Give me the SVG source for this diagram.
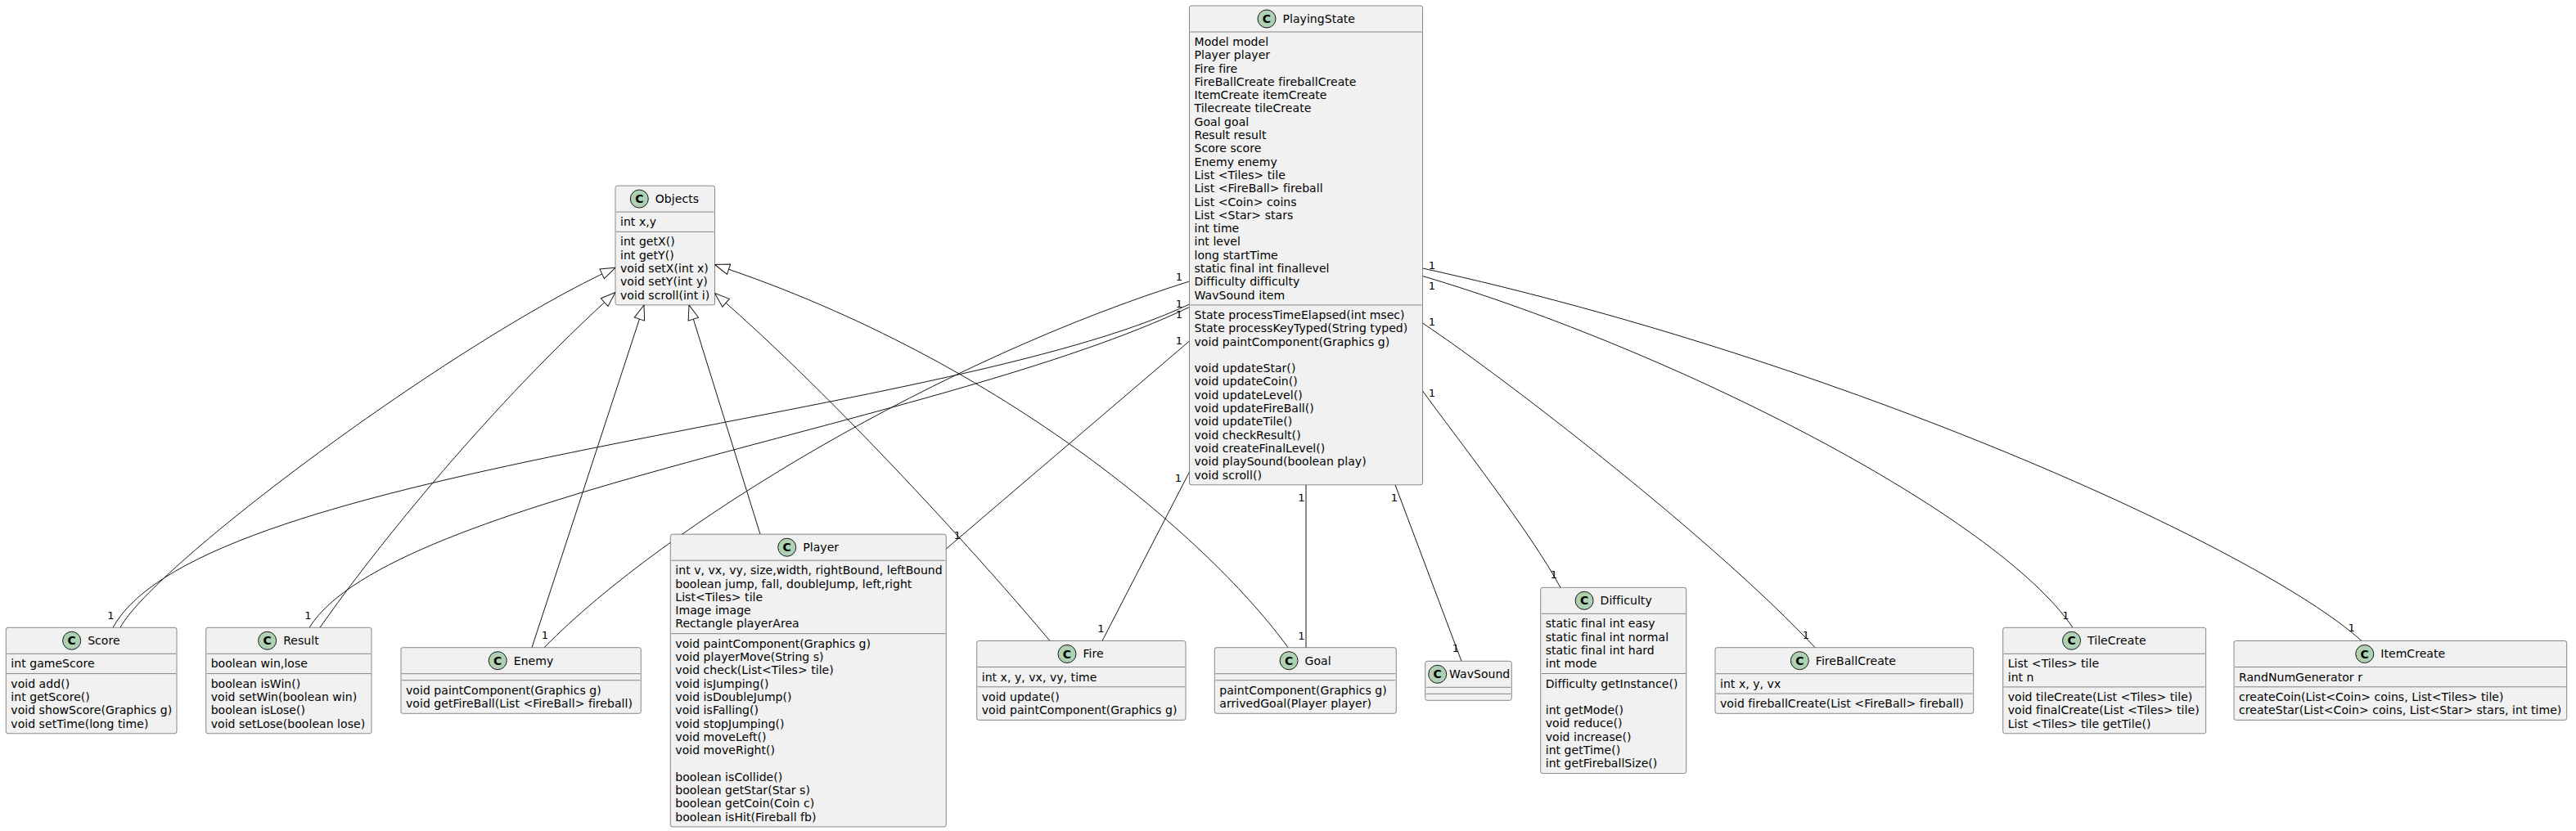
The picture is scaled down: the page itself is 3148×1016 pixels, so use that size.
<svg xmlns="http://www.w3.org/2000/svg" width="3148" height="1016" viewBox="0 0 3148 1016">
<style>
.box{fill:#F1F1F1;stroke:#181818;stroke-width:0.5}
.sep{stroke:#181818;stroke-width:0.5}
.circ{fill:#ADD1B2;stroke:#181818;stroke-width:1}
text{font-family:"DejaVu Sans","Liberation Sans",sans-serif;fill:#000000}
.t{font-size:14px;letter-spacing:0.05px}
.ci{font-size:14px;font-weight:bold;text-anchor:middle}
.edge{fill:none;stroke:#181818;stroke-width:1}
.lbl{font-size:13px;text-anchor:middle}
</style>
<defs>
<marker id="ext" markerUnits="userSpaceOnUse" markerWidth="24" markerHeight="20" viewBox="-21 -10 24 20" refX="0" refY="0" orient="auto">
<path d="M0,0 L-18,-6.5 L-18,6.5 Z" fill="#FFFFFF" stroke="#181818" stroke-width="1"/>
</marker>
</defs>
<rect width="3148" height="1016" fill="#FFFFFF"/>

<g id="connectors">
<path class="edge" d="M147,767.3 C187,692 552,419 752,327.3" marker-end="url(#ext)"/>
<path class="edge" d="M391,767.3 C461,667 602,493 752,357.5" marker-end="url(#ext)"/>
<path class="edge" d="M650,791.7 L787,373" marker-end="url(#ext)"/>
<path class="edge" d="M929,653.2 L842,373" marker-end="url(#ext)"/>
<path class="edge" d="M1283,783.5 C1203,688 1023,488 873.5,358.5" marker-end="url(#ext)"/>
<path class="edge" d="M1574,791.7 C1484,667 1233,443 873.5,323.5" marker-end="url(#ext)"/>

<path class="edge" d="M1453.5,344 C1153,438 815,639 665,791.7"/>
<path class="edge" d="M1453.5,372 C1150,515 248,567 138,767.3"/>
<path class="edge" d="M1453.5,375.5 C1150,520 478,607 378,767.3"/>
<path class="edge" d="M1453.5,417 L1156.3,671"/>
<path class="edge" d="M1453.5,577 L1347,783.5"/>
<path class="edge" d="M1596,592.8 L1596,791.7"/>
<path class="edge" d="M1705,592.8 L1786,808.3"/>
<path class="edge" d="M1738.5,478 C1780,535 1870,650 1907,718.3"/>
<path class="edge" d="M1738.5,395 C1850,470 2100,665 2218,791.7"/>
<path class="edge" d="M1738.5,337.5 C2050,430 2440,630 2533,767.3"/>
<path class="edge" d="M1738.5,328 C2250,440 2760,670 2886,783.5"/>

<text class="lbl" x="1441" y="343">1</text>
<text class="lbl" x="1441" y="376">1</text>
<text class="lbl" x="1441" y="389">1</text>
<text class="lbl" x="1441" y="421">1</text>
<text class="lbl" x="1440" y="589">1</text>
<text class="lbl" x="1590.5" y="613">1</text>
<text class="lbl" x="1704" y="613">1</text>
<text class="lbl" x="1750" y="485">1</text>
<text class="lbl" x="1750" y="398">1</text>
<text class="lbl" x="1750" y="354">1</text>
<text class="lbl" x="1750" y="329">1</text>
<text class="lbl" x="135.5" y="757">1</text>
<text class="lbl" x="376.5" y="757">1</text>
<text class="lbl" x="666" y="780.7">1</text>
<text class="lbl" x="1170" y="659">1</text>
<text class="lbl" x="1345.5" y="772.7">1</text>
<text class="lbl" x="1590.5" y="781.7">1</text>
<text class="lbl" x="1779" y="797">1</text>
<text class="lbl" x="1899" y="707">1</text>
<text class="lbl" x="2207" y="780.7">1</text>
<text class="lbl" x="2524.5" y="756.7">1</text>
<text class="lbl" x="2873.7" y="771.7">1</text>
</g>

<g id="PlayingState">
<rect class="box" x="1453.5" y="7" width="285" height="585.8" rx="2.5" ry="2.5"/>
<ellipse class="circ" cx="1548" cy="23" rx="11" ry="11"/>
<text class="ci" x="1548" y="28">C</text>
<text class="t" x="1567.5" y="27.85">PlayingState</text>
<line class="sep" x1="1454.5" y1="39" x2="1737.5" y2="39"/>
<text class="t" x="1459.5" y="56">Model model</text>
<text class="t" x="1459.5" y="72.3">Player player</text>
<text class="t" x="1459.5" y="88.59">Fire fire</text>
<text class="t" x="1459.5" y="104.89">FireBallCreate fireballCreate</text>
<text class="t" x="1459.5" y="121.19">ItemCreate itemCreate</text>
<text class="t" x="1459.5" y="137.49">Tilecreate tileCreate</text>
<text class="t" x="1459.5" y="153.78">Goal goal</text>
<text class="t" x="1459.5" y="170.08">Result result</text>
<text class="t" x="1459.5" y="186.38">Score score</text>
<text class="t" x="1459.5" y="202.67">Enemy enemy</text>
<text class="t" x="1459.5" y="218.97">List &lt;Tiles&gt; tile</text>
<text class="t" x="1459.5" y="235.27">List &lt;FireBall&gt; fireball</text>
<text class="t" x="1459.5" y="251.56">List &lt;Coin&gt; coins</text>
<text class="t" x="1459.5" y="267.86">List &lt;Star&gt; stars</text>
<text class="t" x="1459.5" y="284.16">int time</text>
<text class="t" x="1459.5" y="300.46">int level</text>
<text class="t" x="1459.5" y="316.75">long startTime</text>
<text class="t" x="1459.5" y="333.05">static final int finallevel</text>
<text class="t" x="1459.5" y="349.35">Difficulty difficulty</text>
<text class="t" x="1459.5" y="365.64">WavSound item</text>
<line class="sep" x1="1454.5" y1="372.94" x2="1737.5" y2="372.94"/>
<text class="t" x="1459.5" y="389.94">State processTimeElapsed(int msec)</text>
<text class="t" x="1459.5" y="406.24">State processKeyTyped(String typed)</text>
<text class="t" x="1459.5" y="422.53">void paintComponent(Graphics g)</text>
<text class="t" x="1459.5" y="455.13">void updateStar()</text>
<text class="t" x="1459.5" y="471.42">void updateCoin()</text>
<text class="t" x="1459.5" y="487.72">void updateLevel()</text>
<text class="t" x="1459.5" y="504.02">void updateFireBall()</text>
<text class="t" x="1459.5" y="520.31">void updateTile()</text>
<text class="t" x="1459.5" y="536.61">void checkResult()</text>
<text class="t" x="1459.5" y="552.91">void createFinalLevel()</text>
<text class="t" x="1459.5" y="569.21">void playSound(boolean play)</text>
<text class="t" x="1459.5" y="585.5">void scroll()</text>
</g>

<g id="Objects">
<rect class="box" x="752" y="227.1" width="121.5" height="145.8" rx="2.5" ry="2.5"/>
<ellipse class="circ" cx="781.3" cy="243.1" rx="11" ry="11"/>
<text class="ci" x="781.3" y="248.1">C</text>
<text class="t" x="800.8" y="247.95">Objects</text>
<line class="sep" x1="753" y1="259.1" x2="872.5" y2="259.1"/>
<text class="t" x="758" y="276.1">int x,y</text>
<line class="sep" x1="753" y1="283.4" x2="872.5" y2="283.4"/>
<text class="t" x="758" y="300.4">int getX()</text>
<text class="t" x="758" y="316.7">int getY()</text>
<text class="t" x="758" y="333">void setX(int x)</text>
<text class="t" x="758" y="349.3">void setY(int y)</text>
<text class="t" x="758" y="365.6">void scroll(int i)</text>
</g>

<g id="Score">
<rect class="box" x="7.3" y="767.3" width="208.7" height="129.5" rx="2.5" ry="2.5"/>
<ellipse class="circ" cx="87.65" cy="783.3" rx="11" ry="11"/>
<text class="ci" x="87.65" y="788.3">C</text>
<text class="t" x="107.15" y="788.15">Score</text>
<line class="sep" x1="8.3" y1="799.3" x2="215" y2="799.3"/>
<text class="t" x="13.3" y="816.3">int gameScore</text>
<line class="sep" x1="8.3" y1="823.6" x2="215" y2="823.6"/>
<text class="t" x="13.3" y="840.6">void add()</text>
<text class="t" x="13.3" y="856.9">int getScore()</text>
<text class="t" x="13.3" y="873.2">void showScore(Graphics g)</text>
<text class="t" x="13.3" y="889.5">void setTime(long time)</text>
</g>

<g id="Result">
<rect class="box" x="251.7" y="767.3" width="202.3" height="129.5" rx="2.5" ry="2.5"/>
<ellipse class="circ" cx="326.65" cy="783.3" rx="11" ry="11"/>
<text class="ci" x="326.65" y="788.3">C</text>
<text class="t" x="346.15" y="788.15">Result</text>
<line class="sep" x1="252.7" y1="799.3" x2="453" y2="799.3"/>
<text class="t" x="257.7" y="816.3">boolean win,lose</text>
<line class="sep" x1="252.7" y1="823.6" x2="453" y2="823.6"/>
<text class="t" x="257.7" y="840.6">boolean isWin()</text>
<text class="t" x="257.7" y="856.9">void setWin(boolean win)</text>
<text class="t" x="257.7" y="873.2">boolean isLose()</text>
<text class="t" x="257.7" y="889.5">void setLose(boolean lose)</text>
</g>

<g id="Enemy">
<rect class="box" x="490" y="791.7" width="293.3" height="80.6" rx="2.5" ry="2.5"/>
<ellipse class="circ" cx="608.25" cy="807.7" rx="11" ry="11"/>
<text class="ci" x="608.25" y="812.7">C</text>
<text class="t" x="627.75" y="812.55">Enemy</text>
<line class="sep" x1="491" y1="823.7" x2="782.3" y2="823.7"/>
<line class="sep" x1="491" y1="831.7" x2="782.3" y2="831.7"/>
<text class="t" x="496" y="848.7">void paintComponent(Graphics g)</text>
<text class="t" x="496" y="865">void getFireBall(List &lt;FireBall&gt; fireball)</text>
</g>

<g id="Player">
<rect class="box" x="819.3" y="653.2" width="337" height="357.7" rx="2.5" ry="2.5"/>
<ellipse class="circ" cx="961.75" cy="669.2" rx="11" ry="11"/>
<text class="ci" x="961.75" y="674.2">C</text>
<text class="t" x="981.25" y="674.05">Player</text>
<line class="sep" x1="820.3" y1="685.2" x2="1155.3" y2="685.2"/>
<text class="t" x="825.3" y="702.2">int v, vx, vy, size,width, rightBound, leftBound</text>
<text class="t" x="825.3" y="718.5">boolean jump, fall, doubleJump, left,right</text>
<text class="t" x="825.3" y="734.8">List&lt;Tiles&gt; tile</text>
<text class="t" x="825.3" y="751.1">Image image</text>
<text class="t" x="825.3" y="767.4">Rectangle playerArea</text>
<line class="sep" x1="820.3" y1="774.7" x2="1155.3" y2="774.7"/>
<text class="t" x="825.3" y="791.7">void paintComponent(Graphics g)</text>
<text class="t" x="825.3" y="808">void playerMove(String s)</text>
<text class="t" x="825.3" y="824.3">void check(List&lt;Tiles&gt; tile)</text>
<text class="t" x="825.3" y="840.6">void isJumping()</text>
<text class="t" x="825.3" y="856.9">void isDoubleJump()</text>
<text class="t" x="825.3" y="873.2">void isFalling()</text>
<text class="t" x="825.3" y="889.5">void stopJumping()</text>
<text class="t" x="825.3" y="905.8">void moveLeft()</text>
<text class="t" x="825.3" y="922.1">void moveRight()</text>
<text class="t" x="825.3" y="954.7">boolean isCollide()</text>
<text class="t" x="825.3" y="971">boolean getStar(Star s)</text>
<text class="t" x="825.3" y="987.3">boolean getCoin(Coin c)</text>
<text class="t" x="825.3" y="1003.6">boolean isHit(Fireball fb)</text>
</g>

<g id="Fire">
<rect class="box" x="1193.7" y="783.5" width="255.3" height="96.9" rx="2.5" ry="2.5"/>
<ellipse class="circ" cx="1303.95" cy="799.5" rx="11" ry="11"/>
<text class="ci" x="1303.95" y="804.5">C</text>
<text class="t" x="1323.45" y="804.35">Fire</text>
<line class="sep" x1="1194.7" y1="815.5" x2="1448" y2="815.5"/>
<text class="t" x="1199.7" y="832.5">int x, y, vx, vy, time</text>
<line class="sep" x1="1194.7" y1="839.8" x2="1448" y2="839.8"/>
<text class="t" x="1199.7" y="856.8">void update()</text>
<text class="t" x="1199.7" y="873.1">void paintComponent(Graphics g)</text>
</g>

<g id="Goal">
<rect class="box" x="1484.3" y="791.7" width="222" height="80.6" rx="2.5" ry="2.5"/>
<ellipse class="circ" cx="1575.1" cy="807.7" rx="11" ry="11"/>
<text class="ci" x="1575.1" y="812.7">C</text>
<text class="t" x="1594.6" y="812.55">Goal</text>
<line class="sep" x1="1485.3" y1="823.7" x2="1705.3" y2="823.7"/>
<line class="sep" x1="1485.3" y1="831.7" x2="1705.3" y2="831.7"/>
<text class="t" x="1490.3" y="848.7">paintComponent(Graphics g)</text>
<text class="t" x="1490.3" y="865">arrivedGoal(Player player)</text>
</g>

<g id="WavSound">
<rect class="box" x="1741.7" y="808.3" width="105.6" height="48" rx="2.5" ry="2.5"/>
<ellipse class="circ" cx="1756.7" cy="824.3" rx="11" ry="11"/>
<text class="ci" x="1756.7" y="829.3">C</text>
<text class="t" x="1771" y="829.15">WavSound</text>
<line class="sep" x1="1742.7" y1="840.3" x2="1846.3" y2="840.3"/>
<line class="sep" x1="1742.7" y1="848.3" x2="1846.3" y2="848.3"/>
</g>

<g id="Difficulty">
<rect class="box" x="1882.7" y="718.3" width="178" height="227.3" rx="2.5" ry="2.5"/>
<ellipse class="circ" cx="1936.1" cy="734.3" rx="11" ry="11"/>
<text class="ci" x="1936.1" y="739.3">C</text>
<text class="t" x="1955.6" y="739.15">Difficulty</text>
<line class="sep" x1="1883.7" y1="750.3" x2="2059.7" y2="750.3"/>
<text class="t" x="1888.7" y="767.3">static final int easy</text>
<text class="t" x="1888.7" y="783.6">static final int normal</text>
<text class="t" x="1888.7" y="799.9">static final int hard</text>
<text class="t" x="1888.7" y="816.2">int mode</text>
<line class="sep" x1="1883.7" y1="823.5" x2="2059.7" y2="823.5"/>
<text class="t" x="1888.7" y="840.5">Difficulty getInstance()</text>
<text class="t" x="1888.7" y="873.1">int getMode()</text>
<text class="t" x="1888.7" y="889.4">void reduce()</text>
<text class="t" x="1888.7" y="905.7">void increase()</text>
<text class="t" x="1888.7" y="922">int getTime()</text>
<text class="t" x="1888.7" y="938.3">int getFireballSize()</text>
</g>

<g id="FireBallCreate">
<rect class="box" x="2096" y="791.7" width="315.7" height="80.6" rx="2.5" ry="2.5"/>
<ellipse class="circ" cx="2199.35" cy="807.7" rx="11" ry="11"/>
<text class="ci" x="2199.35" y="812.7">C</text>
<text class="t" x="2218.85" y="812.55">FireBallCreate</text>
<line class="sep" x1="2097" y1="823.7" x2="2410.7" y2="823.7"/>
<text class="t" x="2102" y="840.7">int x, y, vx</text>
<line class="sep" x1="2097" y1="848" x2="2410.7" y2="848"/>
<text class="t" x="2102" y="865">void fireballCreate(List &lt;FireBall&gt; fireball)</text>
</g>

<g id="TileCreate">
<rect class="box" x="2447.7" y="767.3" width="248" height="129.5" rx="2.5" ry="2.5"/>
<ellipse class="circ" cx="2531.55" cy="783.3" rx="11" ry="11"/>
<text class="ci" x="2531.55" y="788.3">C</text>
<text class="t" x="2551.05" y="788.15">TileCreate</text>
<line class="sep" x1="2448.7" y1="799.3" x2="2694.7" y2="799.3"/>
<text class="t" x="2453.7" y="816.3">List &lt;Tiles&gt; tile</text>
<text class="t" x="2453.7" y="832.6">int n</text>
<line class="sep" x1="2448.7" y1="839.9" x2="2694.7" y2="839.9"/>
<text class="t" x="2453.7" y="856.9">void tileCreate(List &lt;Tiles&gt; tile)</text>
<text class="t" x="2453.7" y="873.2">void finalCreate(List &lt;Tiles&gt; tile)</text>
<text class="t" x="2453.7" y="889.5">List &lt;Tiles&gt; tile getTile()</text>
</g>

<g id="ItemCreate">
<rect class="box" x="2730" y="783.5" width="406.7" height="96.9" rx="2.5" ry="2.5"/>
<ellipse class="circ" cx="2889.75" cy="799.5" rx="11" ry="11"/>
<text class="ci" x="2889.75" y="804.5">C</text>
<text class="t" x="2909.25" y="804.35">ItemCreate</text>
<line class="sep" x1="2731" y1="815.5" x2="3135.7" y2="815.5"/>
<text class="t" x="2736" y="832.5">RandNumGenerator r</text>
<line class="sep" x1="2731" y1="839.8" x2="3135.7" y2="839.8"/>
<text class="t" x="2736" y="856.8">createCoin(List&lt;Coin&gt; coins, List&lt;Tiles&gt; tile)</text>
<text class="t" x="2736" y="873.1">createStar(List&lt;Coin&gt; coins, List&lt;Star&gt; stars, int time)</text>
</g>
</svg>
